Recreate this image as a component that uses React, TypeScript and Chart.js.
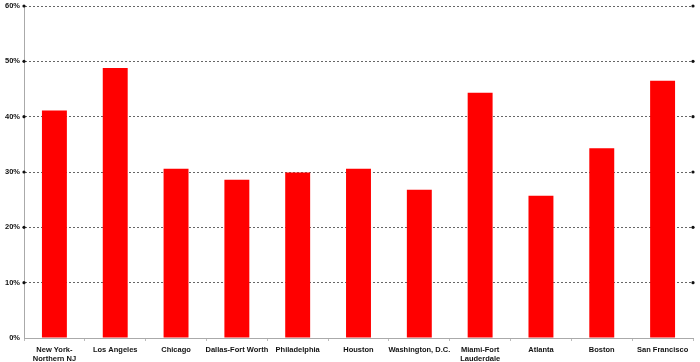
import React, { useEffect, useRef } from "react";
import { Chart, registerables } from "chart.js";

Chart.register(...registerables);

const categories: (string | string[])[] = [
  ["New York-", "Northern NJ"],
  "Los Angeles",
  "Chicago",
  "Dallas-Fort Worth",
  "Philadelphia",
  "Houston",
  "Washington, D.C.",
  ["Miami-Fort", "Lauderdale"],
  "Atlanta",
  "Boston",
  "San Francisco",
];
const values: number[] = [41.1, 48.8, 30.6, 28.6, 29.9, 30.6, 26.8, 44.3, 25.7, 34.3, 46.5];
const yTicks: number[] = [0, 10, 20, 30, 40, 50, 60];

const dotPlugin = {
  id: "gridDots",
  afterDraw(chart: any) {
    const { ctx, chartArea, scales } = chart;
    const y = scales.y;
    ctx.save();
    ctx.fillStyle = "#111";
    y.ticks.forEach((t: any) => {
      if (t.value === 0) return;
      const py = y.getPixelForValue(t.value);
      [chartArea.left, chartArea.right].forEach((px: number) => {
        ctx.beginPath();
        ctx.arc(px, py, 1.6, 0, Math.PI * 2);
        ctx.fill();
      });
    });
    ctx.restore();
  },
};

export default function App() {
  const ref = useRef<HTMLCanvasElement | null>(null);
  useEffect(() => {
    if (!ref.current) return;
    const font = { family: "'Liberation Sans', Arial, sans-serif", size: 7.5, weight: "bold" as const, lineHeight: 1.25 };
    const chart = new Chart(ref.current, {
      type: "bar",
      data: {
        labels: categories,
        datasets: [
          {
            data: values,
            backgroundColor: "#ff0000",
            borderWidth: 0,
            barPercentage: 0.41,
            categoryPercentage: 1,
          },
        ],
      },
      options: {
        animation: false,
        responsive: false,
        maintainAspectRatio: false,
        layout: { padding: { top: 6, right: 7, left: 0, bottom: 0 } },
        plugins: { legend: { display: false }, tooltip: { enabled: false } },
        scales: {
          x: {
            grid: {
              drawOnChartArea: false,
              drawTicks: true,
              tickLength: 3,
              color: "#bbb",
              offset: true,
            },
            border: { color: "#aaa", width: 1 },
            ticks: { font, color: "#111", padding: 4, maxRotation: 0, autoSkip: false },
            afterFit: (s: any) => {
              s.height = 24;
              s.paddingLeft = 0;
              s.paddingRight = 0;
            },
          },
          y: {
            min: 0,
            max: 60,
            afterBuildTicks: (s: any) => {
              s.ticks = yTicks.map((v) => ({ value: v }));
            },
            grid: {
              drawTicks: false,
              color: (c: any) => (c.tick && c.tick.value === 0 ? "rgba(0,0,0,0)" : "#666"),
              lineWidth: 1,
            },
            border: { color: "#aaa", width: 1, dash: [2, 2] },
            ticks: {
              font,
              color: "#111",
              padding: 4,
              callback: (v: any) => v + "%",
            },
            afterFit: (s: any) => {
              s.width = 24;
              s.paddingTop = 0;
              s.paddingBottom = 0;
            },
          },
        },
      },
      plugins: [dotPlugin],
    });
    return () => chart.destroy();
  }, []);
  return (
    <div style={{ position: "fixed", left: 0, top: 0, width: 700, height: 362, background: "#fff" }}>
      <canvas ref={ref} width={700} height={362} />
    </div>
  );
}
